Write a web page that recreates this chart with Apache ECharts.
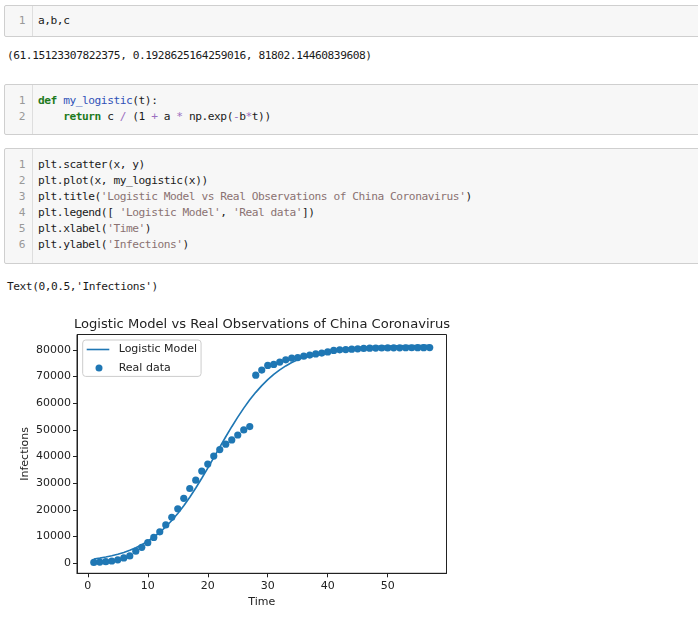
<!DOCTYPE html>
<html>
<head>
<meta charset="utf-8">
<script src="https://cdn.jsdelivr.net/npm/echarts@6/dist/echarts.min.js"></script>
<style>
  body { margin: 0; background: #fff; width: 698px; height: 627px; overflow: hidden; position: relative; }
  .mono { font-family: 'DejaVu Sans Mono', monospace; font-size: 11.2px; letter-spacing: -0.45px; line-height: 16px; color: #1a1a1a; white-space: pre; }
  .cell { position: absolute; left: 4px; width: 700px; background: #f7f7f7; border: 1px solid #cfcfcf; border-radius: 2px; box-sizing: border-box; }
  .gutter { position: absolute; left: 0; top: 0; bottom: 0; width: 28px; border-right: 1px solid #dedede; }
  .gutter div { text-align: right; padding-right: 7px; color: #999; }
  .src { position: absolute; left: 33px; top: 0; }
  .out { position: absolute; left: 7px; }
  .kw { color: #1d7a1d; font-weight: bold; }
  .fn { color: #2f52b8; }
  .op { color: #9b6fc0; }
  .st { color: #8a7272; }
  #chart { position: absolute; left: 0; top: 300px; width: 524px; height: 327px; }
</style>
</head>
<body>

<div class="cell" style="top:5px;height:32px;">
  <div class="gutter mono" style="padding-top:7px;box-sizing:border-box;"><div>1</div></div>
  <div class="src mono" style="padding-top:7px;">a,b,c</div>
</div>
<div class="out mono" style="top:47.5px;">(61.15123307822375, 0.1928625164259016, 81802.14460839608)</div>

<div class="cell" style="top:84px;height:51px;">
  <div class="gutter mono" style="padding-top:8px;box-sizing:border-box;"><div>1</div><div>2</div></div>
  <div class="src mono" style="padding-top:8px;"><span class="kw">def</span> <span class="fn">my_logistic</span>(t):
    <span class="kw">return</span> c <span class="op">/</span> (1 <span class="op">+</span> a <span class="op">*</span> np.exp(<span class="op">-</span>b<span class="op">*</span>t))</div>
</div>

<div class="cell" style="top:148px;height:116px;">
  <div class="gutter mono" style="padding-top:7.5px;box-sizing:border-box;"><div>1</div><div>2</div><div>3</div><div>4</div><div>5</div><div>6</div></div>
  <div class="src mono" style="padding-top:7.5px;">plt.scatter(x, y)
plt.plot(x, my_logistic(x))
plt.title(<span class="st">'Logistic Model vs Real Observations of China Coronavirus'</span>)
plt.legend([ <span class="st">'Logistic Model'</span>, <span class="st">'Real data'</span>])
plt.xlabel(<span class="st">'Time'</span>)
plt.ylabel(<span class="st">'Infections'</span>)</div>
</div>
<div class="out mono" style="top:279px;">Text(0,0.5,'Infections')</div>

<div id="chart"></div>

<script>
// day number since start of the record
const days = [1, 2, 3, 4, 5, 6, 7, 8, 9, 10, 11, 12, 13, 14, 15, 16, 17, 18, 19, 20,
  21, 22, 23, 24, 25, 26, 27, 28, 29, 30, 31, 32, 33, 34, 35, 36, 37, 38, 39, 40,
  41, 42, 43, 44, 45, 46, 47, 48, 49, 50, 51, 52, 53, 54, 55, 56, 57]

// observed cumulative infections (scatter)
const realData = [291, 440, 571, 830, 1287, 1975, 2744, 4515, 5974, 7711,
  9692, 11791, 14380, 17205, 20438, 24324, 28018, 31161, 34546, 37198,
  40171, 42638, 44653, 46250, 48100, 50000, 51250, 70548, 72436, 74185,
  74576, 75465, 76288, 76936, 77150, 77658, 78064, 78497, 78824, 79251,
  79824, 80026, 80151, 80270, 80409, 80552, 80651, 80695, 80735, 80754,
  80778, 80793, 80813, 80824, 80844, 80860, 80881]

// fitted logistic curve, read at each day
const logisticModel = [1591, 1921, 2318, 2795, 3365, 4045, 4854, 5814, 6945, 8273,
  9822, 11614, 13672, 16010, 18640, 21560, 24758, 28209, 31871, 35692,
  39608, 43548, 47439, 51212, 54807, 58175, 61279, 64100, 66630, 68870,
  70834, 72540, 74010, 75267, 76337, 77244, 78005, 78645, 79181, 79628,
  80002, 80312, 80569, 80783, 80959, 81106, 81227, 81328, 81410, 81478,
  81535, 81582, 81620, 81652, 81679, 81700, 81718]

const xTicks = [0, 10, 20, 30, 40, 50]
const yTicks = [0, 10000, 20000, 30000, 40000, 50000, 60000, 70000, 80000]

const BLUE = '#1f77b4'
const INK = '#222'
const FONT = 'DejaVu Sans'

const chart = echarts.init(document.getElementById('chart'))

const axisText = { color: INK, fontSize: 11, fontFamily: FONT }

const option = {
  animation: false,
  title: {
    text: 'Logistic Model vs Real Observations of China Coronavirus',
    left: 'center',
    top: 18,
    padding: 0,
    textStyle: { color: INK, fontSize: 13.1, fontWeight: 'normal', fontFamily: FONT },
  },
  grid: {
    left: 77,
    top: 34.5,
    width: 369.5,
    height: 238.8,
    show: true,
    borderColor: INK,
    borderWidth: 1,
    backgroundColor: 'transparent',
    containLabel: false,
    outerBoundsMode: 'none',
  },
  legend: {
    orient: 'vertical',
    left: 82.7,
    top: 40,
    padding: [3.5, 4, 2.5, 4],
    itemWidth: 27,
    itemHeight: 12,
    itemGap: 6.4,
    backgroundColor: 'rgba(255,255,255,0.8)',
    borderColor: '#cccccc',
    borderWidth: 1,
    borderRadius: 3,
    textStyle: { color: INK, fontSize: 11, fontFamily: FONT },
    data: [
      { name: 'Logistic Model', icon: 'path://M0,0M27,12M0,5.2H22.6V6.8H0Z' },
      { name: 'Real data', icon: 'path://M0,0M27,12M8.8,6a3.5,3.5 0 1,0 7,0a3.5,3.5 0 1,0 -7,0Z' },
    ],
  },
  xAxis: {
    type: 'value',
    min: -1.8,
    max: 59.8,
    name: 'Time',
    nameLocation: 'middle',
    nameGap: 23,
    nameMoveOverlap: false,
    nameTextStyle: axisText,
    axisLine: { show: true, onZero: false, lineStyle: { color: INK, width: 1 } },
    axisTick: { show: true, length: 4, lineStyle: { color: INK, width: 1 }, customValues: xTicks },
    axisLabel: { ...axisText, margin: 7, customValues: xTicks, formatter: (v) => String(v) },
    splitLine: { show: false },
  },
  yAxis: {
    type: 'value',
    min: -3780,
    max: 85790,
    name: 'Infections',
    nameLocation: 'middle',
    nameGap: 46,
    nameMoveOverlap: false,
    nameTextStyle: axisText,
    axisLine: { show: true, onZero: false, lineStyle: { color: INK, width: 1 } },
    axisTick: { show: true, length: 4, lineStyle: { color: INK, width: 1 }, customValues: yTicks },
    axisLabel: { ...axisText, margin: 6, customValues: yTicks, formatter: (v) => String(v) },
    splitLine: { show: false },
  },
  series: [
    {
      name: 'Real data',
      type: 'scatter',
      symbol: 'circle',
      symbolSize: 7.2,
      itemStyle: { color: BLUE, opacity: 1 },
      data: days.map((d, i) => [d, realData[i]]),
    },
    {
      name: 'Logistic Model',
      type: 'line',
      symbol: 'none',
      showSymbol: false,
      itemStyle: { color: BLUE },
      lineStyle: { color: BLUE, width: 1.65 },
      data: days.map((d, i) => [d, logisticModel[i]]),
    },
  ],
}

chart.setOption(option)
</script>
</body>
</html>
